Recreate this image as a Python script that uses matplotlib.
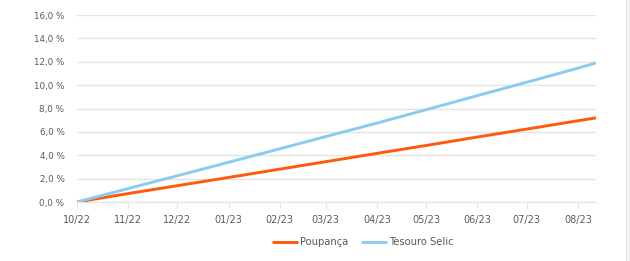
import matplotlib
matplotlib.use("Agg")
import matplotlib.pyplot as plt
import matplotlib.dates as mdates
from matplotlib.ticker import FuncFormatter, MultipleLocator
from matplotlib.patches import Rectangle
import pandas as pd

plt.rcParams['font.family'] = ['DejaVu Sans']

# datas (inicio de cada mes + ultimo dia)
datas = pd.to_datetime([
    "2022-10-01", "2022-11-01", "2022-12-01", "2023-01-01", "2023-02-01", "2023-03-01",
    "2023-04-01", "2023-05-01", "2023-06-01", "2023-07-01", "2023-08-01", "2023-08-12",
])
poupanca = [0.0, 0.72, 1.40, 2.10, 2.81, 3.45, 4.16, 4.84, 5.56, 6.24, 6.95, 7.20]
tesouro_selic = [0.0, 1.15, 2.25, 3.40, 4.55, 5.60, 6.75, 7.90, 9.10, 10.25, 11.45, 11.90]

ticks_meses = pd.date_range("2022-10-01", "2023-08-01", freq="MS")

cor_poupanca = "#FF5A0A"
cor_selic = "#8CCBF0"
cinza = "#5a5a5a"

fig = plt.figure(figsize=(6.3, 2.61), dpi=100)
ax = fig.add_axes([0.1222, 0.226, 0.946 - 0.1222, 0.9425 - 0.226])

ax.plot(datas, poupanca, color=cor_poupanca, lw=2.1, label="Poupança", solid_capstyle="butt")
ax.plot(datas, tesouro_selic, color=cor_selic, lw=2.1, label="Tesouro Selic", solid_capstyle="butt")

ax.set_ylim(0, 16)
ax.set_xlim(datas[0], datas[-1])
ax.yaxis.set_major_locator(MultipleLocator(2))
ax.yaxis.set_major_formatter(FuncFormatter(lambda v, p: f"{v:.1f} %".replace(".", ",")))
ax.set_xticks(ticks_meses)
ax.xaxis.set_major_formatter(mdates.DateFormatter("%m/%y"))

ax.grid(True, axis="y", color="#e4e4e4", lw=1)
ax.set_axisbelow(True)
for s in ["top", "right", "left"]:
    ax.spines[s].set_visible(False)
ax.spines["bottom"].set_color("#e4e4e4")
ax.tick_params(axis="y", length=0, pad=9, labelsize=6.3, labelcolor=cinza)
ax.tick_params(axis="x", length=4, color="#e4e4e4", pad=5, labelsize=7, labelcolor=cinza)

fig.legend(loc="center", bbox_to_anchor=(0.576, 0.072), ncol=2, frameon=False,
           fontsize=7.2, labelcolor=cinza, handlelength=2.6, handletextpad=0.2,
           columnspacing=1.2)

# borda cinza a direita
fig.add_artist(Rectangle((626 / 630, 0), 4 / 630, 1, transform=fig.transFigure,
                         facecolor="#f4f4f4", edgecolor="none"))
fig.add_artist(Rectangle((626 / 630, 0), 1 / 630, 1, transform=fig.transFigure,
                         facecolor="#e2e2e2", edgecolor="none"))

fig.savefig("out.png", dpi=100, facecolor="white")
